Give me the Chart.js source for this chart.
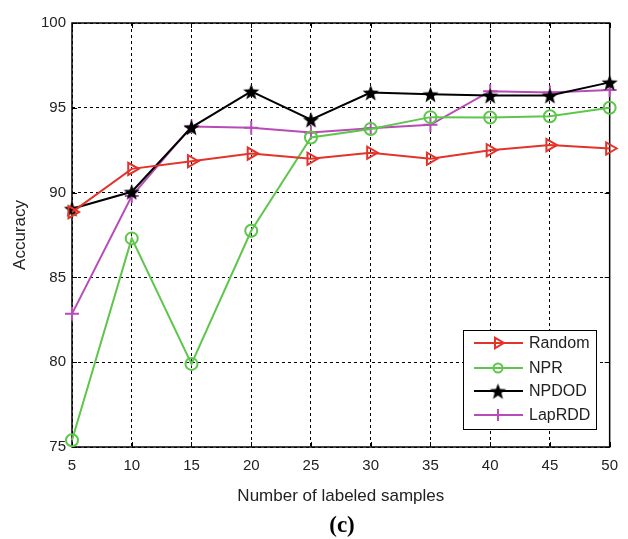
<!DOCTYPE html>
<html><head><meta charset="utf-8">
<script src="https://cdn.jsdelivr.net/npm/chart.js@4/dist/chart.umd.min.js"></script>
<style>html,body{margin:0;padding:0;background:#fff}#wrap{width:628px;height:539px}</style>
</head><body><div id="wrap"><canvas id="c" width="628" height="539"></canvas></div>
<script>
const samples = [5, 10, 15, 20, 25, 30, 35, 40, 45, 50];
const randomAcc = [88.85, 91.4, 91.85, 92.3, 92.0, 92.35, 92.0, 92.5, 92.8, 92.6];
const nprAcc = [75.4, 87.3, 79.9, 87.75, 93.25, 93.75, 94.45, 94.43, 94.5, 95.0];
const npdodAcc = [89.05, 90.05, 93.85, 95.97, 94.3, 95.9, 95.8, 95.72, 95.72, 96.5];
const laprddAcc = [82.85, 89.8, 93.9, 93.83, 93.55, 93.8, 94.0, 95.98, 95.9, 96.05];
const seriesNames = ["Random", "NPR", "NPDOD", "LapRDD"];
const yTicks = [75, 80, 85, 90, 95, 100];

function starImg(r) {
  const c = document.createElement('canvas');
  const s = Math.ceil(r * 2 + 4);
  c.width = s; c.height = s;
  const g = c.getContext('2d');
  g.translate(s / 2, s / 2 + 1);
  g.beginPath();
  for (let i = 0; i < 10; i++) {
    const rr = i % 2 === 0 ? r : r * 0.42;
    const a = -Math.PI / 2 + i * Math.PI / 5;
    g.lineTo(rr * Math.cos(a), rr * Math.sin(a));
  }
  g.closePath();
  g.fillStyle = '#000'; g.fill();
  return c;
}
const star = starImg(8.5);

const colors = ['#e3342b', '#5ec64b', '#000000', '#b84cb6'];
const styles = [
  { pointStyle: 'triangle', rotation: 90, radius: 7 },
  { pointStyle: 'circle', rotation: 0, radius: 6 },
  { pointStyle: star, rotation: 0, radius: 9 },
  { pointStyle: 'cross', rotation: 0, radius: 7 }
];
const values = [randomAcc, nprAcc, npdodAcc, laprddAcc];

const datasets = seriesNames.map((n, i) => ({
  label: n,
  data: samples.map((x, k) => ({ x: x, y: values[i][k] })),
  borderColor: colors[i],
  backgroundColor: 'rgba(0,0,0,0)',
  borderWidth: 2,
  pointStyle: styles[i].pointStyle,
  rotation: styles[i].rotation,
  pointRadius: styles[i].radius,
  pointBorderWidth: 2,
  pointBorderColor: colors[i],
  pointBackgroundColor: 'rgba(0,0,0,0)',
  tension: 0,
  clip: false
}));

const FONT = "'Liberation Sans', Arial, Helvetica, sans-serif";

const decor = {
  id: 'decor',
  beforeDatasetsDraw(chart) {
    const { ctx, chartArea: a, scales } = chart;
    ctx.save();
    ctx.strokeStyle = '#000'; ctx.lineWidth = 1; ctx.setLineDash([]);
    samples.forEach(v => {
      const x = Math.round(scales.x.getPixelForValue(v)) + 0.5;
      ctx.beginPath(); ctx.moveTo(x, a.bottom); ctx.lineTo(x, a.bottom - 5); ctx.stroke();
      ctx.beginPath(); ctx.moveTo(x, a.top); ctx.lineTo(x, a.top + 5); ctx.stroke();
    });
    yTicks.forEach(v => {
      const y = Math.round(scales.y.getPixelForValue(v)) + 0.5;
      ctx.beginPath(); ctx.moveTo(a.left, y); ctx.lineTo(a.left + 5, y); ctx.stroke();
      ctx.beginPath(); ctx.moveTo(a.right, y); ctx.lineTo(a.right - 5, y); ctx.stroke();
    });
    ctx.lineWidth = 1.5;
    ctx.strokeRect(a.left, a.top, a.right - a.left, a.bottom - a.top);
    ctx.restore();
  },
  afterDraw(chart) {
    const { ctx } = chart;
    ctx.save();
    ctx.setLineDash([]);
    const bx = 463.5, by = 330.5, bw = 133, bh = 99;
    ctx.fillStyle = '#fff'; ctx.fillRect(bx, by, bw, bh);
    ctx.strokeStyle = '#000'; ctx.lineWidth = 1; ctx.strokeRect(bx, by, bw, bh);
    const rows = [343, 368, 391, 415];
    chart.data.datasets.forEach((ds, i) => {
      const y = rows[i];
      ctx.strokeStyle = ds.borderColor; ctx.lineWidth = 2;
      ctx.beginPath(); ctx.moveTo(474, y); ctx.lineTo(523, y); ctx.stroke();
      ctx.fillStyle = 'rgba(0,0,0,0)';
      ctx.strokeStyle = ds.borderColor;
      Chart.helpers.drawPoint(ctx, {
        pointStyle: ds.pointStyle, rotation: ds.rotation,
        radius: i === 2 ? 9 : (i === 1 ? 4.5 : 6), borderWidth: 2
      }, 498, y);
      ctx.fillStyle = '#222'; ctx.font = "16px " + FONT;
      ctx.textAlign = 'left'; ctx.textBaseline = 'middle';
      ctx.fillText(ds.label, 529, y + 1);
    });
    ctx.fillStyle = '#000';
    ctx.font = "bold 23px 'Liberation Serif', 'Times New Roman', serif";
    ctx.textAlign = 'center'; ctx.textBaseline = 'middle';
    ctx.fillText('(c)', 342, 526);
    ctx.restore();
  }
};

new Chart(document.getElementById('c'), {
  type: 'line',
  data: { datasets },
  options: {
    responsive: false,
    animation: false,
    devicePixelRatio: 1,
    layout: { padding: { top: 23, right: 15, left: 0, bottom: 32 } },
    plugins: { legend: { display: false }, tooltip: { enabled: false } },
    scales: {
      x: {
        type: 'linear', min: 5, max: 50,
        afterFit(s) { s.height = 60; },
        afterBuildTicks(s) { s.ticks = samples.map(v => ({ value: v })); },
        border: { display: false, dash: [3, 3] },
        grid: { color: '#000', lineWidth: 1, drawTicks: false },
        ticks: { color: '#222', font: { family: FONT, size: 15 }, padding: 10, maxRotation: 0 },
        title: { display: true, text: 'Number of labeled samples', color: '#222', font: { family: FONT, size: 17 }, padding: { top: 0, bottom: 0 } }
      },
      y: {
        type: 'linear', min: 75, max: 100,
        afterFit(s) { s.width = 72; },
        afterBuildTicks(s) { s.ticks = yTicks.map(v => ({ value: v })); },
        border: { display: false, dash: [3, 3] },
        grid: { color: '#000', lineWidth: 1, drawTicks: false },
        ticks: { color: '#222', font: { family: FONT, size: 15 }, padding: 6 },
        title: { display: true, text: 'Accuracy', color: '#222', font: { family: FONT, size: 17 }, padding: { top: 10, bottom: 0 } }
      }
    }
  },
  plugins: [decor]
});
</script>
</body></html>
